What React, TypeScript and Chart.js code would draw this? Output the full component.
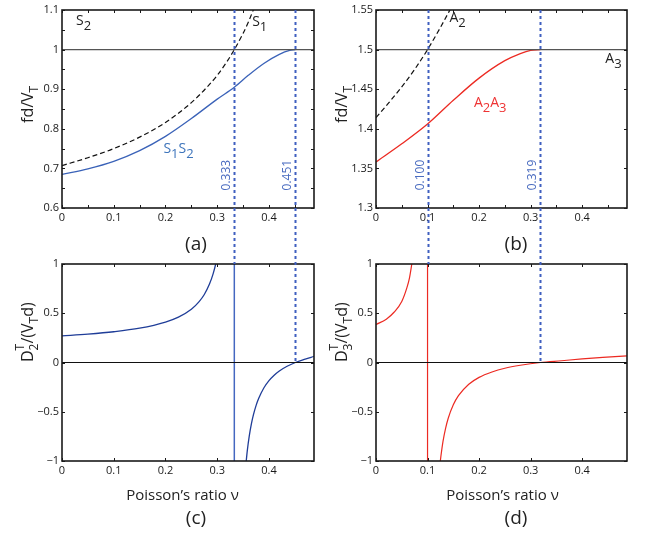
import React, { useEffect, useRef } from 'react';
import { Chart, registerables } from 'chart.js';

Chart.register(...registerables);

const FONT = '"Open Sans", "Liberation Sans", sans-serif';
const W = 648;
const H = 536;
const X_MAX = 0.487;

// ---------- data ----------
// Panel (a): symmetric modes
const nuS1 = [0, 0.05, 0.1, 0.15, 0.2, 0.25, 0.28, 0.3, 0.32, 0.333, 0.35, 0.36, 0.37];
const fdS1 = [0.707, 0.727, 0.75, 0.779, 0.816, 0.866, 0.905, 0.935, 0.972, 1.0, 1.041, 1.069, 1.101];
const nuS1S2 = [0, 0.05, 0.1, 0.15, 0.2, 0.25, 0.3, 0.333, 0.36, 0.39, 0.42, 0.44, 0.451];
const fdS1S2 = [0.685, 0.699, 0.718, 0.745, 0.781, 0.826, 0.875, 0.905, 0.935, 0.965, 0.988, 0.998, 1.0];
const nuFlat = [0, 0.487];
const fdS2 = [1, 1];

// Panel (b): antisymmetric modes
const nuA2 = [0, 0.025, 0.05, 0.075, 0.1, 0.125, 0.15];
const fdA2 = [1.414, 1.433, 1.453, 1.475, 1.5, 1.528, 1.558];
const nuA2A3 = [0, 0.05, 0.1, 0.15, 0.2, 0.25, 0.28, 0.3, 0.319];
const fdA2A3 = [1.358, 1.381, 1.406, 1.436, 1.464, 1.486, 1.495, 1.499, 1.5];
const fdA3 = [1.5, 1.5];

// Panel (c): D2
const nuD2Left = [0, 0.05, 0.1, 0.15, 0.2, 0.225, 0.25, 0.265, 0.275, 0.285, 0.292, 0.297, 0.302];
const dD2Left = [0.27, 0.288, 0.312, 0.348, 0.41, 0.46, 0.54, 0.618, 0.69, 0.796, 0.9, 1.0, 1.13];
const nuD2Right = [0.355, 0.358, 0.362, 0.366, 0.37, 0.375, 0.38, 0.39, 0.4, 0.41, 0.42, 0.435, 0.451, 0.47, 0.487];
const dD2Right = [-1.056, -0.9, -0.743, -0.623, -0.53, -0.438, -0.366, -0.259, -0.184, -0.129, -0.086, -0.038, 0, 0.034, 0.062];

// Panel (d): D3
const nuD3Left = [0, 0.02, 0.035, 0.05, 0.06, 0.065, 0.0695, 0.072];
const dD3Left = [0.385, 0.44, 0.51, 0.62, 0.76, 0.86, 1.0, 1.08];
const nuD3Right = [0.123, 0.126, 0.13, 0.135, 0.14, 0.15, 0.16, 0.18, 0.2, 0.225, 0.25, 0.28, 0.319, 0.36, 0.4, 0.44, 0.487];
const dD3Right = [-1.08, -0.948, -0.8, -0.668, -0.568, -0.43, -0.337, -0.221, -0.151, -0.096, -0.058, -0.028, 0, 0.018, 0.036, 0.052, 0.068];

const zeroY = [0, 0];
const poleSpan = [-1, 1];
const cutoffA = [0.333, 0.451];
const cutoffB = [0.1, 0.319];
const cutoffLabelsA = ['0.333', '0.451'];
const cutoffLabelsB = ['0.100', '0.319'];

// ticks
const xTicksFine = [0, 0.05, 0.1, 0.15, 0.2, 0.25, 0.3, 0.35, 0.4, 0.45];
const xTicksCoarse = [0, 0.1, 0.2, 0.3, 0.4];
const yTicksA = [0.6, 0.65, 0.7, 0.75, 0.8, 0.85, 0.9, 0.95, 1.0, 1.05, 1.1];
const yTicksB = [1.3, 1.35, 1.4, 1.45, 1.5, 1.55];
const yTicksCD = [-1, -0.5, 0, 0.5, 1];

// ---------- styles ----------
const TICK_COLOR = '#1a1a1a';
const BLUE_A = '#3a62b8';
const BLUE_C = '#1f3d98';
const BLUE_POLE = '#4467c0';
const RED = '#ec2a22';
const DOT_BLUE = '#3f5fc0';
const BLUE_TEXT = '#3d74bb';
const NUM_TEXT = '#4a6cc0';
const RED_TEXT = '#ee3333';

const pts = (xs: number[], ys: number[]) => xs.map((x, i) => ({ x, y: ys[i] }));

const fmt = (v: number) => {
  const r = Math.round(v * 1000) / 1000;
  return (r < 0 ? '\u2212' : '') + String(Math.abs(r));
};
const isTenth = (v: number) => Math.abs(v * 10 - Math.round(v * 10)) < 1e-6;

type Part = { t: string; size: number; dy?: number; noAdvance?: boolean };

function drawRich(ctx: CanvasRenderingContext2D, parts: Part[], x: number, y: number, angle: number, color: string) {
  ctx.save();
  ctx.translate(x, y);
  ctx.rotate(angle);
  ctx.textBaseline = 'alphabetic';
  ctx.textAlign = 'left';
  ctx.fillStyle = color;
  let cx = 0;
  for (const p of parts) {
    ctx.font = `${p.size}px ${FONT}`;
    ctx.fillText(p.t, cx, p.dy || 0);
    if (!p.noAdvance) cx += ctx.measureText(p.t).width;
  }
  ctx.restore();
}

function drawText(ctx: CanvasRenderingContext2D, t: string, x: number, y: number, size: number, color: string, align: CanvasTextAlign = 'center', angle = 0, baseline: CanvasTextBaseline = 'alphabetic') {
  ctx.save();
  ctx.translate(x, y);
  ctx.rotate(angle);
  ctx.font = `${size}px ${FONT}`;
  ctx.fillStyle = color;
  ctx.textAlign = align;
  ctx.textBaseline = baseline;
  ctx.fillText(t, 0, 0);
  ctx.restore();
}

function drawFrame(chart: any, xTicks: number[], yTicks: number[]) {
  const { ctx, chartArea } = chart;
  const { left, right, top, bottom } = chartArea;
  const xs = chart.scales.x;
  const ys = chart.scales.y;
  const TL = 3;
  ctx.save();
  ctx.strokeStyle = '#1a1a1a';
  ctx.lineWidth = 1;
  ctx.beginPath();
  for (const v of xTicks) {
    const px = Math.round(xs.getPixelForValue(v)) + 0.5;
    ctx.moveTo(px, bottom);
    ctx.lineTo(px, bottom - TL);
    ctx.moveTo(px, top);
    ctx.lineTo(px, top + TL);
  }
  for (const v of yTicks) {
    const py = Math.round(ys.getPixelForValue(v)) + 0.5;
    ctx.moveTo(left, py);
    ctx.lineTo(left + TL, py);
    ctx.moveTo(right, py);
    ctx.lineTo(right - TL, py);
  }
  ctx.stroke();
  ctx.lineWidth = 1.6;
  ctx.strokeRect(left, top, right - left, bottom - top);
  ctx.restore();
}

function makeScales(yMin: number, yMax: number, xTicks: number[], yTicks: number[], xLab: (v: number) => boolean, yLab: (v: number) => boolean) {
  const tickFont = { family: FONT, size: 11 };
  return {
    x: {
      type: 'linear',
      min: 0,
      max: X_MAX,
      afterBuildTicks: (s: any) => {
        s.ticks = xTicks.map((v) => ({ value: v }));
      },
      grid: { display: false, drawTicks: false },
      border: { display: false },
      ticks: {
        autoSkip: false,
        maxRotation: 0,
        minRotation: 0,
        padding: 3,
        color: TICK_COLOR,
        font: tickFont,
        callback: (v: any) => (xLab(Number(v)) ? fmt(Number(v)) : ''),
      },
      afterFit: (s: any) => {
        s.height = 20;
      },
    },
    y: {
      type: 'linear',
      min: yMin,
      max: yMax,
      afterBuildTicks: (s: any) => {
        s.ticks = yTicks.map((v) => ({ value: v }));
      },
      grid: { display: false, drawTicks: false },
      border: { display: false },
      ticks: {
        autoSkip: false,
        padding: 3,
        color: TICK_COLOR,
        font: tickFont,
        callback: (v: any) => (yLab(Number(v)) ? fmt(Number(v)) : ''),
      },
      afterFit: (s: any) => {
        s.width = 30;
      },
    },
  };
}

const lineDS = (data: any[], color: string, width: number, dash: number[] = []) => ({
  data,
  borderColor: color,
  borderWidth: width,
  borderDash: dash,
  pointRadius: 0,
  fill: false,
  cubicInterpolationMode: 'monotone',
});

function baseOptions(pad: any, scales: any) {
  return {
    animation: false,
    responsive: false,
    maintainAspectRatio: false,
    devicePixelRatio: 1,
    events: [],
    layout: { padding: pad },
    plugins: { legend: { display: false }, tooltip: { enabled: false }, title: { display: false } },
    scales,
  };
}

const fdTitle: Part[] = [
  { t: 'fd/V', size: 16 },
  { t: 'T', size: 12, dy: 5 },
];
const dTitle = (n: string): Part[] => [
  { t: 'D', size: 16 },
  { t: 'T', size: 12, dy: -9, noAdvance: true },
  { t: n, size: 12, dy: 5 },
  { t: '/(V', size: 16 },
  { t: 'T', size: 12, dy: 5 },
  { t: 'd)', size: 16 },
];

export default function App() {
  const r0 = useRef<HTMLCanvasElement>(null);
  const r1 = useRef<HTMLCanvasElement>(null);
  const r2 = useRef<HTMLCanvasElement>(null);
  const r3 = useRef<HTMLCanvasElement>(null);

  useEffect(() => {
    const charts: Chart[] = [];

    // (a)
    const a = new Chart(r0.current!, {
      type: 'line',
      data: {
        datasets: [
          lineDS(pts(nuFlat, fdS2), '#555555', 1.2),
          lineDS(pts(nuS1, fdS1), '#111111', 1.2, [5, 3]),
          lineDS(pts(nuS1S2, fdS1S2), BLUE_A, 1.3),
        ],
      } as any,
      options: baseOptions(
        { left: 32, top: 10, right: 334, bottom: 308 },
        makeScales(0.6, 1.1, xTicksFine, yTicksA, isTenth, isTenth),
      ) as any,
      plugins: [
        {
          id: 'decoA',
          afterDraw(chart: any) {
            const { ctx, chartArea } = chart;
            const xs = chart.scales.x;
            const ys = chart.scales.y;
            drawFrame(chart, xTicksFine, yTicksA);
            drawRich(ctx, [{ t: 'S', size: 14 }, { t: '2', size: 13, dy: 5 }], xs.getPixelForValue(0.027), ys.getPixelForValue(1.061), 0, '#222');
            drawRich(ctx, [{ t: 'S', size: 14 }, { t: '1', size: 13, dy: 5 }], xs.getPixelForValue(0.3675), ys.getPixelForValue(1.0596), 0, '#222');
            drawRich(ctx, [{ t: 'S', size: 14 }, { t: '1', size: 13, dy: 5 }, { t: 'S', size: 14 }, { t: '2', size: 13, dy: 5 }], xs.getPixelForValue(0.196), ys.getPixelForValue(0.738), 0, BLUE_TEXT);
            cutoffA.forEach((v, i) => {
              drawText(ctx, cutoffLabelsA[i], xs.getPixelForValue(v) - 4, ys.getPixelForValue(0.683), 12, NUM_TEXT, 'center', -Math.PI / 2, 'alphabetic');
            });
            drawRich(ctx, fdTitle, chartArea.left - 29, chartArea.top + 113, -Math.PI / 2, '#222');
            drawText(ctx, '(a)', chartArea.left + 134, chartArea.bottom + 41.5, 19, '#222');
          },
        },
      ],
    });
    charts.push(a);

    // (b)
    const b = new Chart(r1.current!, {
      type: 'line',
      data: {
        datasets: [
          lineDS(pts(nuFlat, fdA3), '#555555', 1.2),
          lineDS(pts(nuA2, fdA2), '#111111', 1.2, [5, 3]),
          lineDS(pts(nuA2A3, fdA2A3), RED, 1.3),
        ],
      } as any,
      options: baseOptions(
        { left: 346, top: 10, right: 21, bottom: 308 },
        makeScales(1.3, 1.55, xTicksFine, yTicksB, isTenth, () => true),
      ) as any,
      plugins: [
        {
          id: 'decoB',
          afterDraw(chart: any) {
            const { ctx, chartArea } = chart;
            const xs = chart.scales.x;
            const ys = chart.scales.y;
            drawFrame(chart, xTicksFine, yTicksB);
            drawRich(ctx, [{ t: 'A', size: 14 }, { t: '2', size: 13, dy: 5 }], xs.getPixelForValue(0.1424), ys.getPixelForValue(1.535), 0, '#222');
            drawRich(ctx, [{ t: 'A', size: 14 }, { t: '3', size: 13, dy: 5 }], xs.getPixelForValue(0.445), ys.getPixelForValue(1.4827), 0, '#222');
            drawRich(ctx, [{ t: 'A', size: 14 }, { t: '2', size: 13, dy: 5 }, { t: 'A', size: 14 }, { t: '3', size: 13, dy: 5 }], xs.getPixelForValue(0.19), ys.getPixelForValue(1.428), 0, RED_TEXT);
            cutoffB.forEach((v, i) => {
              drawText(ctx, cutoffLabelsB[i], xs.getPixelForValue(v) - 4, ys.getPixelForValue(1.3417), 12, NUM_TEXT, 'center', -Math.PI / 2, 'alphabetic');
            });
            drawRich(ctx, fdTitle, chartArea.left - 29, chartArea.top + 113, -Math.PI / 2, '#222');
            drawText(ctx, '(b)', chartArea.left + 140, chartArea.bottom + 41.5, 19, '#222');
          },
        },
      ],
    });
    charts.push(b);

    const drawDotted = (chart: any, top: any, values: number[]) => {
      const { ctx } = chart;
      const xs = chart.scales.x;
      const ys = chart.scales.y;
      ctx.save();
      ctx.strokeStyle = DOT_BLUE;
      ctx.lineWidth = 2;
      ctx.setLineDash([3, 3]);
      values.forEach((v, i) => {
        const px = Math.round(xs.getPixelForValue(v)) + 0.5;
        const yEnd = i === 0 ? chart.chartArea.top : ys.getPixelForValue(0);
        ctx.beginPath();
        ctx.moveTo(px, top.chartArea.top);
        ctx.lineTo(px, yEnd);
        ctx.stroke();
      });
      ctx.restore();
    };

    // (c)
    const c = new Chart(r2.current!, {
      type: 'line',
      data: {
        datasets: [
          lineDS(pts(nuFlat, zeroY), '#111111', 1),
          lineDS(pts([cutoffA[0], cutoffA[0]], poleSpan), BLUE_POLE, 1.5),
          lineDS(pts(nuD2Left, dD2Left), BLUE_C, 1.3),
          lineDS(pts(nuD2Right, dD2Right), BLUE_C, 1.3),
        ],
      } as any,
      options: baseOptions(
        { left: 32, top: 264, right: 334, bottom: 55 },
        makeScales(-1, 1, xTicksCoarse, yTicksCD, () => true, () => true),
      ) as any,
      plugins: [
        {
          id: 'decoC',
          afterDraw(chart: any) {
            const { ctx, chartArea } = chart;
            drawFrame(chart, xTicksCoarse, yTicksCD);
            drawDotted(chart, a, cutoffA);
            drawRich(ctx, dTitle('2'), chartArea.left - 29, chartArea.top + 98, -Math.PI / 2, '#222');
            drawText(ctx, 'Poisson\u2019s ratio \u03bd', chartArea.left + 120.5, chartArea.bottom + 39, 15, '#222');
            drawText(ctx, '(c)', chartArea.left + 134, chartArea.bottom + 63, 19, '#222');
          },
        },
      ],
    });
    charts.push(c);

    // (d)
    const d = new Chart(r3.current!, {
      type: 'line',
      data: {
        datasets: [
          lineDS(pts(nuFlat, zeroY), '#111111', 1),
          lineDS(pts([cutoffB[0], cutoffB[0]], poleSpan), RED, 1.2),
          lineDS(pts(nuD3Left, dD3Left), RED, 1.2),
          lineDS(pts(nuD3Right, dD3Right), RED, 1.2),
        ],
      } as any,
      options: baseOptions(
        { left: 346, top: 264, right: 21, bottom: 55 },
        makeScales(-1, 1, xTicksCoarse, yTicksCD, () => true, () => true),
      ) as any,
      plugins: [
        {
          id: 'decoD',
          afterDraw(chart: any) {
            const { ctx, chartArea } = chart;
            drawFrame(chart, xTicksCoarse, yTicksCD);
            drawDotted(chart, b, cutoffB);
            drawRich(ctx, dTitle('3'), chartArea.left - 29, chartArea.top + 98, -Math.PI / 2, '#222');
            drawText(ctx, 'Poisson\u2019s ratio \u03bd', chartArea.left + 126.5, chartArea.bottom + 39, 15, '#222');
            drawText(ctx, '(d)', chartArea.left + 140, chartArea.bottom + 63, 19, '#222');
          },
        },
      ],
    });
    charts.push(d);

    return () => charts.forEach((ch) => ch.destroy());
  }, []);

  const cs: React.CSSProperties = { position: 'absolute', left: 0, top: 0, width: W, height: H };
  return (
    <div style={{ position: 'absolute', left: 0, top: 0, width: W, height: H, background: '#ffffff' }}>
      <canvas ref={r0} width={W} height={H} style={cs} />
      <canvas ref={r1} width={W} height={H} style={cs} />
      <canvas ref={r2} width={W} height={H} style={cs} />
      <canvas ref={r3} width={W} height={H} style={cs} />
    </div>
  );
}
